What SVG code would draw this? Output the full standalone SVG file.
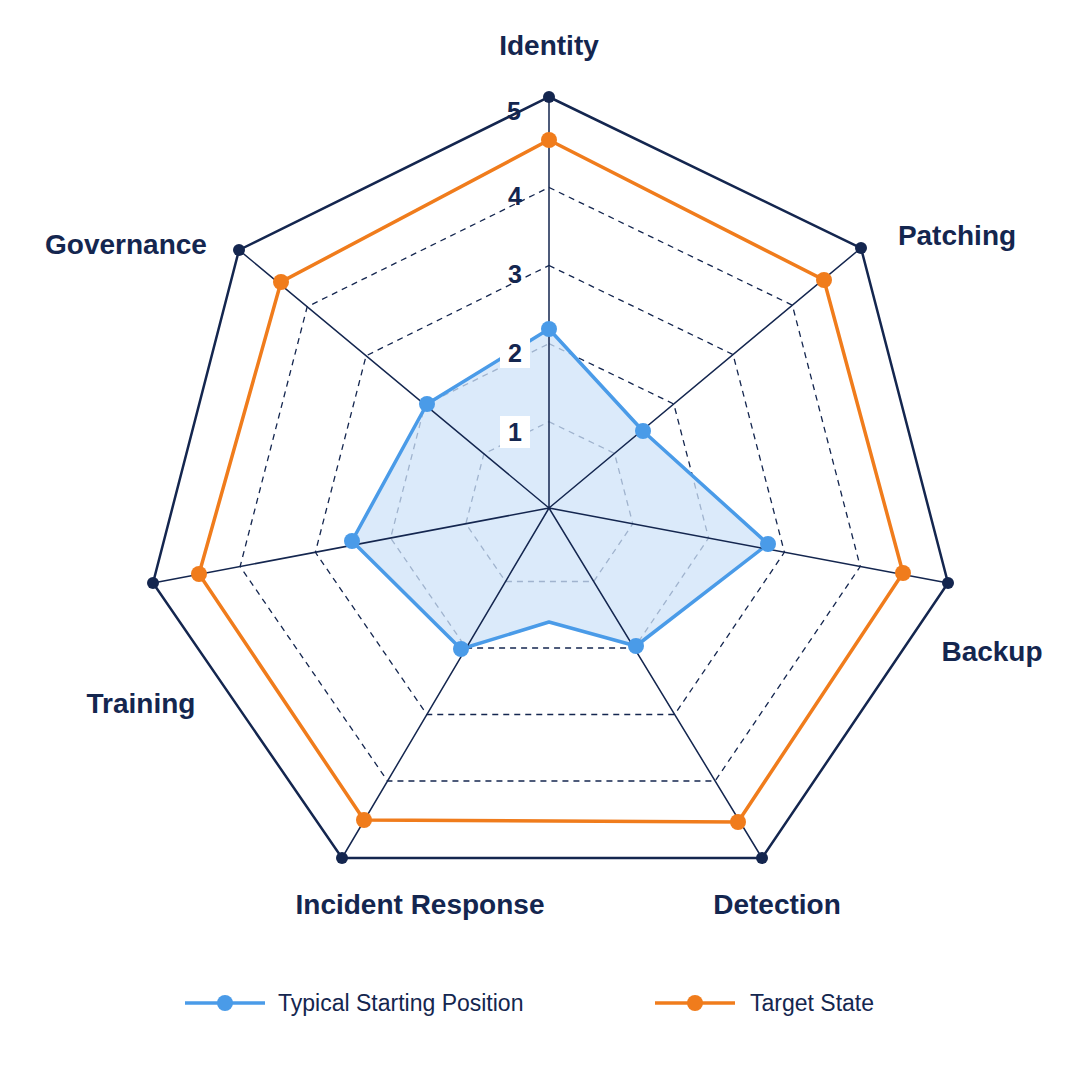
<svg xmlns="http://www.w3.org/2000/svg" width="1080" height="1080" viewBox="0 0 1080 1080">
<style>
.ax{stroke:#14264f;stroke-width:1.5;fill:none}
.grid{stroke:#14264f;stroke-width:1.3;fill:none;stroke-dasharray:6 5}
.outer{stroke:#14264f;stroke-width:2.5;fill:none}
.lbl{font-family:"Liberation Sans",Arial,sans-serif;font-weight:bold;font-size:28px;fill:#14264f;text-anchor:middle}
.num{font-family:"Liberation Sans",Arial,sans-serif;font-weight:bold;font-size:25px;fill:#14264f;text-anchor:middle}
.leg{font-family:"Liberation Sans",Arial,sans-serif;font-size:23px;fill:#14264f}
</style>
<rect width="1080" height="1080" fill="#fff"/>
<g id="grid">
<polygon class="grid" transform="translate(549 508) scale(0.78) translate(-549 -508)" points="549,97 861,248 948,583 762,858 342,858 153,583 239,250" vector-effect="non-scaling-stroke"/>
<polygon class="grid" transform="translate(549 508) scale(0.59) translate(-549 -508)" points="549,97 861,248 948,583 762,858 342,858 153,583 239,250" vector-effect="non-scaling-stroke"/>
<polygon class="grid" transform="translate(549 508) scale(0.40) translate(-549 -508)" points="549,97 861,248 948,583 762,858 342,858 153,583 239,250" vector-effect="non-scaling-stroke"/>
<polygon class="grid" transform="translate(549 508) scale(0.21) translate(-549 -508)" points="549,97 861,248 948,583 762,858 342,858 153,583 239,250" vector-effect="non-scaling-stroke"/>
<polygon class="outer" points="549,97 861,248 948,583 762,858 342,858 153,583 239,250"/>
</g>
<g id="series-start">
<polygon points="549,329 643,431 768,544 636,646 549,622 461,649 352,541 427,404" fill="#cfe3f8" fill-opacity="0.75" stroke="#4a9be8" stroke-width="3.5" stroke-linejoin="round"/>
</g>
<g id="connectors">
<path class="ax" d="M549,508L549,97M549,508L861,248M549,508L948,583M549,508L762,858M549,508L342,858M549,508L153,583M549,508L239,250"/>
</g>
<g id="series-target">
<polygon points="549,140 824,280 903,573 738,822 364,820 199,574 281,282" fill="none" stroke="#f07c1c" stroke-width="3.5"/>
<g fill="#f07c1c"><circle cx="549" cy="140" r="8"/><circle cx="824" cy="280" r="8"/><circle cx="903" cy="573" r="8"/><circle cx="738" cy="822" r="8"/><circle cx="364" cy="820" r="8"/><circle cx="199" cy="574" r="8"/><circle cx="281" cy="282" r="8"/></g>
</g>
<g id="start-dots" fill="#4a9be8"><circle cx="549" cy="329" r="8"/><circle cx="643" cy="431" r="8"/><circle cx="768" cy="544" r="8"/><circle cx="636" cy="646" r="8"/><circle cx="461" cy="649" r="8"/><circle cx="352" cy="541" r="8"/><circle cx="427" cy="404" r="8"/></g>
<g id="vertex-dots" fill="#14264f"><circle cx="549" cy="97" r="6"/><circle cx="861" cy="248" r="6"/><circle cx="948" cy="583" r="6"/><circle cx="762" cy="858" r="6"/><circle cx="342" cy="858" r="6"/><circle cx="153" cy="583" r="6"/><circle cx="239" cy="250" r="6"/></g>
<g id="scale">
<rect x="500" y="336" width="30" height="32" fill="#fff"/>
<rect x="500" y="416" width="30" height="32" fill="#fff"/>
<text class="num" x="514" y="120">5</text>
<text class="num" x="515" y="205">4</text>
<text class="num" x="515" y="283">3</text>
<text class="num" x="515" y="362">2</text>
<text class="num" x="515" y="441">1</text>
</g>
<g id="labels">
<text class="lbl" x="549" y="55">Identity</text>
<text class="lbl" x="957" y="245">Patching</text>
<text class="lbl" x="126" y="254">Governance</text>
<text class="lbl" x="992" y="661">Backup</text>
<text class="lbl" x="141" y="713">Training</text>
<text class="lbl" x="420" y="914">Incident Response</text>
<text class="lbl" x="777" y="914">Detection</text>
</g>
<g id="legend">
<line x1="185" y1="1003" x2="265" y2="1003" stroke="#4a9be8" stroke-width="3.5"/><circle cx="225" cy="1003" r="8" fill="#4a9be8"/>
<text class="leg" x="278" y="1011">Typical Starting Position</text>
<line x1="655" y1="1003" x2="735" y2="1003" stroke="#f07c1c" stroke-width="3.5"/><circle cx="695" cy="1003" r="8" fill="#f07c1c"/>
<text class="leg" x="750" y="1011">Target State</text>
</g>
</svg>
